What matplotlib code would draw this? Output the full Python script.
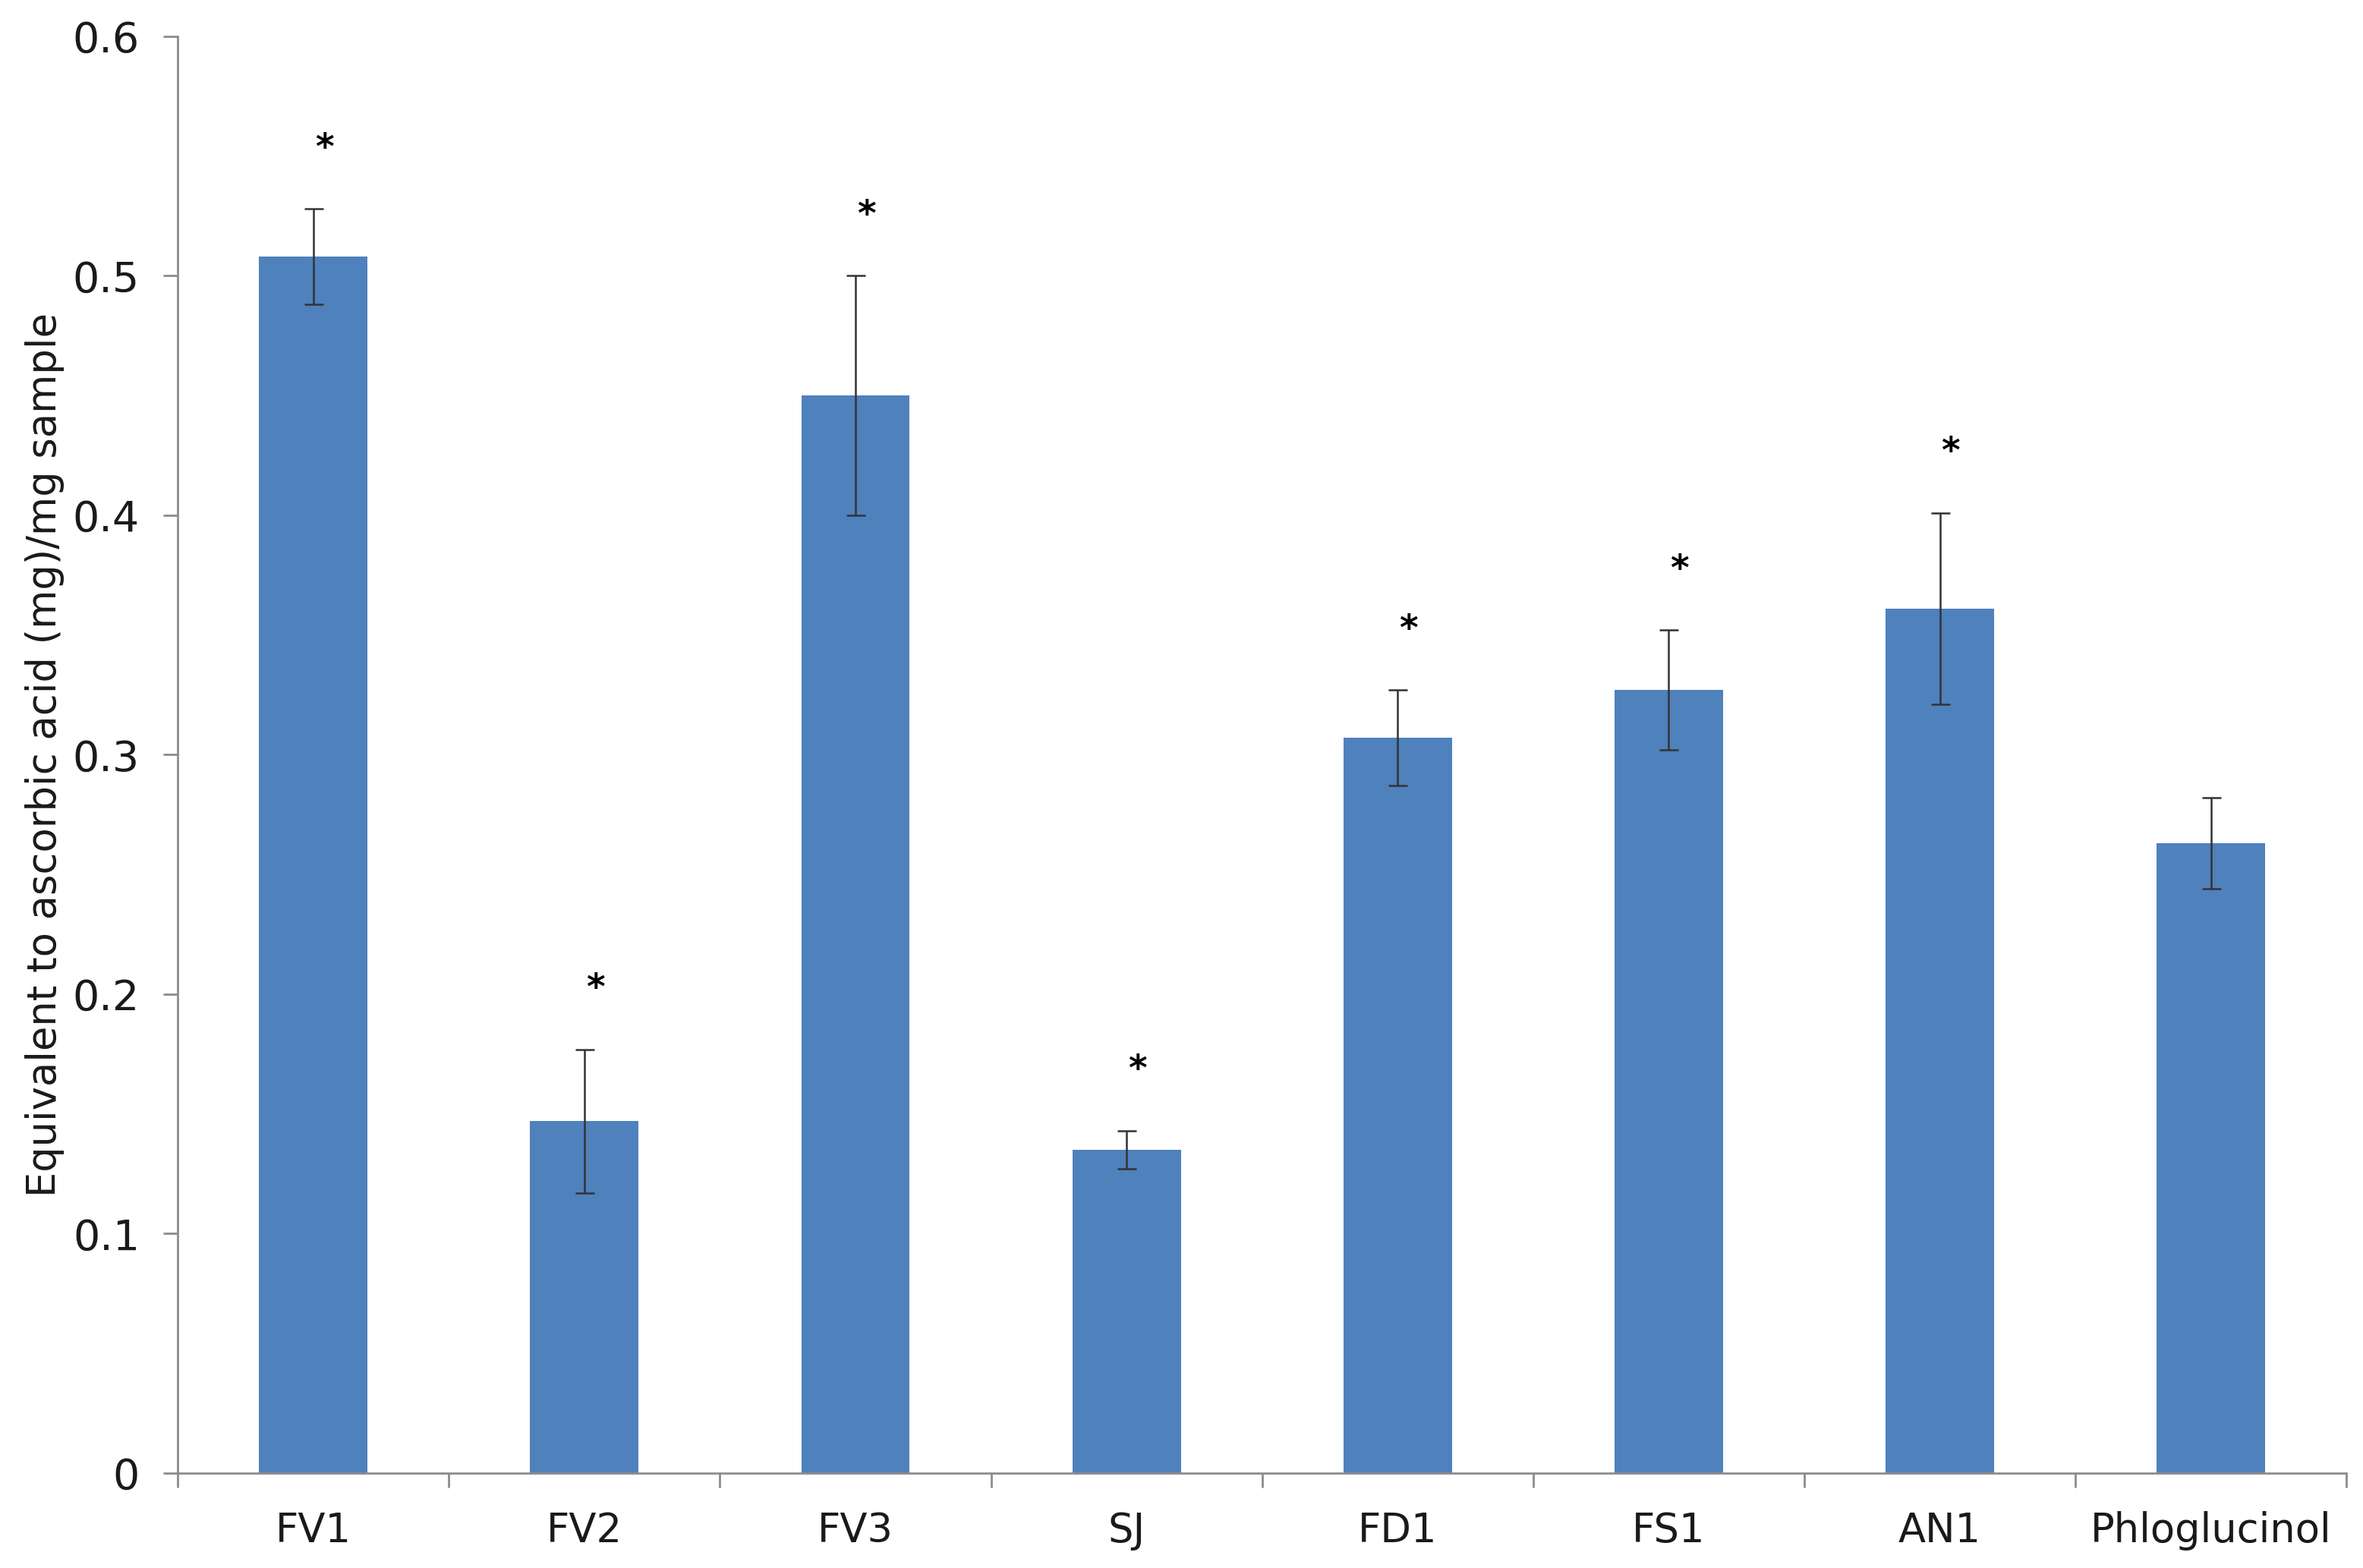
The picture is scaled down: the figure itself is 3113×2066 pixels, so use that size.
import numpy as np
import matplotlib.pyplot as plt

# values
samples = ['FV1', 'FV2', 'FV3', 'SJ', 'FD1', 'FS1', 'AN1', 'Phloglucinol']
means = [0.508, 0.147, 0.450, 0.135, 0.307, 0.327, 0.361, 0.263]
errors = [0.020, 0.030, 0.050, 0.008, 0.020, 0.025, 0.040, 0.019]
significant = [True, True, True, True, True, True, True, False]

bar_color = '#4F81BD'
axis_color = '#8C8C8C'

fig = plt.figure(figsize=(31.13, 20.66), dpi=100)
ax = fig.add_axes([0.0752, 0.0605, 0.9178, 0.9163])

x = np.arange(len(samples))
ax.bar(x, means, width=0.4, color=bar_color, zorder=2)
ax.errorbar(x, means, yerr=errors, fmt='none', ecolor='#333333',
            elinewidth=1.8, capsize=9, capthick=1.8, zorder=3)

# asterisks above significant bars
for xi, m, e, s in zip(x, means, errors, significant):
    if s:
        ax.text(xi + 0.04, m + e + 0.025, '*', ha='center', va='center',
                fontsize=34, fontweight='bold', color='black')

ax.set_xlim(-0.5, len(samples) - 0.5)
ax.set_ylim(0, 0.6)
ax.set_yticks(np.arange(0, 0.61, 0.1))
ax.set_yticklabels(['0', '0.1', '0.2', '0.3', '0.4', '0.5', '0.6'])

ax.set_xticks(x)
ax.set_xticklabels(samples)
ax.set_xticks(np.arange(-0.5, len(samples)), minor=True)
ax.tick_params(axis='x', which='major', length=0, pad=36, labelsize=38,
               labelcolor='#1a1a1a')
ax.tick_params(axis='x', which='minor', length=14, width=2, color=axis_color,
               direction='out')
ax.tick_params(axis='y', length=14, width=2, color=axis_color, pad=22,
               labelsize=40, labelcolor='#1a1a1a')

for side in ['top', 'right']:
    ax.spines[side].set_visible(False)
for side in ['left', 'bottom']:
    ax.spines[side].set_color(axis_color)
    ax.spines[side].set_linewidth(2)

ax.set_ylabel('Equivalent to ascorbic acid (mg)/mg sample', fontsize=38,
              color='#1a1a1a', labelpad=8)

fig.savefig('out.png', dpi=100, facecolor='white')
